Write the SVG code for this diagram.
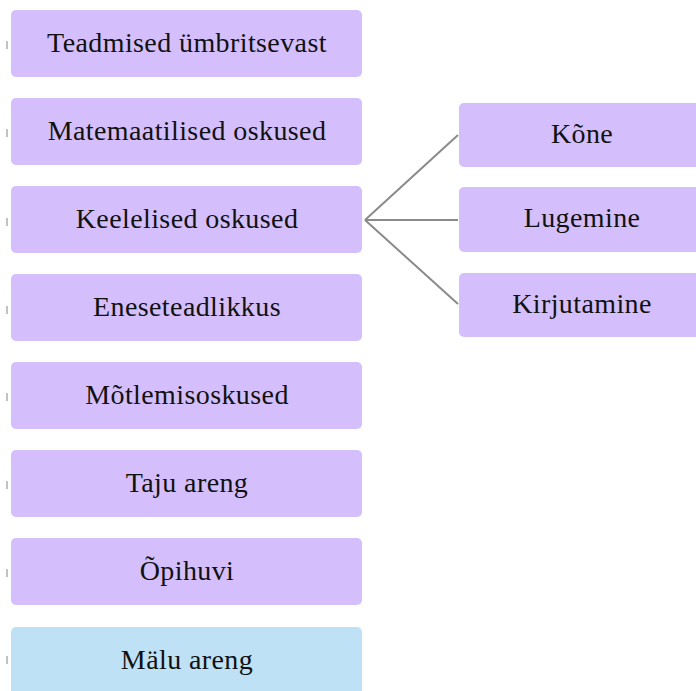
<svg xmlns="http://www.w3.org/2000/svg" width="696" height="691" viewBox="0 0 696 691">
<style>
.box{fill:#D4BFFC;}
.blue{fill:#BEE1F5;}
.lbl{font-family:"Liberation Serif","Times New Roman",serif;font-size:28px;letter-spacing:0.4px;fill:#111;text-anchor:middle;}
.conn{stroke:#8A8A8A;stroke-width:2;fill:none;}
.tick{stroke:#999;stroke-width:1.2;}
</style>
<rect width="696" height="691" fill="#fff"/>
<g id="ticks">
<line class="tick" x1="7" y1="41" x2="7" y2="49"/>
<line class="tick" x1="7" y1="129" x2="7" y2="137"/>
<line class="tick" x1="7" y1="218" x2="7" y2="226"/>
<line class="tick" x1="7" y1="306" x2="7" y2="314"/>
<line class="tick" x1="7" y1="393" x2="7" y2="401"/>
<line class="tick" x1="7" y1="481" x2="7" y2="489"/>
<line class="tick" x1="7" y1="569" x2="7" y2="577"/>
<line class="tick" x1="7" y1="656" x2="7" y2="664"/>
</g>
<g id="connectors">
<line class="conn" x1="365" y1="220" x2="458" y2="135"/>
<line class="conn" x1="365" y1="220" x2="458" y2="220"/>
<line class="conn" x1="365" y1="220" x2="458" y2="304"/>
</g>
<g id="n1"><rect class="box" x="11" y="10" width="351" height="67" rx="5"/><text class="lbl" x="187" y="52">Teadmised ümbritsevast</text></g>
<g id="n2"><rect class="box" x="11" y="98" width="351" height="67" rx="5"/><text class="lbl" x="187" y="140">Matemaatilised oskused</text></g>
<g id="n3"><rect class="box" x="11" y="186" width="351" height="67" rx="5"/><text class="lbl" x="187" y="228">Keelelised oskused</text></g>
<g id="n4"><rect class="box" x="11" y="274" width="351" height="67" rx="5"/><text class="lbl" x="187" y="316">Eneseteadlikkus</text></g>
<g id="n5"><rect class="box" x="11" y="362" width="351" height="67" rx="5"/><text class="lbl" x="187" y="404">Mõtlemisoskused</text></g>
<g id="n6"><rect class="box" x="11" y="450" width="351" height="67" rx="5"/><text class="lbl" x="187" y="492">Taju areng</text></g>
<g id="n7"><rect class="box" x="11" y="538" width="351" height="67" rx="5"/><text class="lbl" x="187" y="580">Õpihuvi</text></g>
<g id="n8"><rect class="blue" x="11" y="627" width="351" height="70" rx="5"/><text class="lbl" x="187" y="669">Mälu areng</text></g>
<g id="r1"><rect class="box" x="459" y="103" width="250" height="64" rx="5"/><text class="lbl" x="582" y="143">Kõne</text></g>
<g id="r2"><rect class="box" x="459" y="187" width="250" height="65" rx="5"/><text class="lbl" x="582" y="227">Lugemine</text></g>
<g id="r3"><rect class="box" x="459" y="273" width="250" height="64" rx="5"/><text class="lbl" x="582" y="313">Kirjutamine</text></g>
</svg>
